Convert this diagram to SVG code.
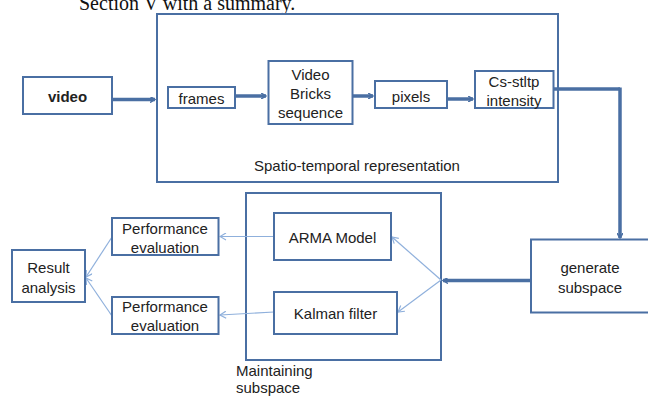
<svg xmlns="http://www.w3.org/2000/svg" width="648" height="396" viewBox="0 0 648 396">
<style>
.box{fill:#fff;stroke:#4a6fa3;stroke-width:2}
.t{font-family:"Liberation Sans",Arial,sans-serif;font-size:15px;fill:#222;text-anchor:middle;dominant-baseline:central}
.thick{fill:none;stroke:#4a6fa3;stroke-width:3.5}
.thin{fill:none;stroke:#8fb0dc;stroke-width:1.2}
</style>
<defs>
<marker id="ah" markerWidth="6" markerHeight="6" refX="5" refY="3" orient="auto" markerUnits="userSpaceOnUse">
<path d="M0,0 L5,3 L0,6" fill="none" stroke="#4a6fa3" stroke-width="1.5"/>
</marker>
<marker id="ahs" markerWidth="8" markerHeight="8" refX="7" refY="4" orient="auto" markerUnits="userSpaceOnUse">
<path d="M1,0.5 L7,4 L1,7.5" fill="none" stroke="#8fb0dc" stroke-width="1.2"/>
</marker>
</defs>
<rect width="648" height="396" fill="#fff"/>
<text x="79" y="10" font-family="'Liberation Serif','Times New Roman',serif" font-size="20" fill="#111">Section V with a summary.</text>

<g id="spatio">
<rect class="box" x="157" y="14" width="401" height="168"/>
<text class="t" x="357" y="165">Spatio-temporal representation</text>
</g>
<g id="maintaining">
<rect class="box" x="246" y="193" width="195" height="167"/>
<text class="t" x="236" y="370" style="text-anchor:start">Maintaining</text>
<text class="t" x="236" y="387" style="text-anchor:start">subspace</text>
</g>

<g id="connectors">
<line class="thick" x1="112" y1="99.5" x2="155" y2="99.5" marker-end="url(#ah)"/>
<line class="thick" x1="235" y1="96" x2="266" y2="96" marker-end="url(#ah)"/>
<line class="thick" x1="353" y1="96" x2="373" y2="96" marker-end="url(#ah)"/>
<line class="thick" x1="447" y1="99" x2="473" y2="99" marker-end="url(#ah)"/>
<polyline class="thick" points="554,89 620,89"/>
<line class="thick" x1="620" y1="87.5" x2="620" y2="238" marker-end="url(#ah)"/>
<line class="thick" x1="531" y1="280.5" x2="443" y2="280.5" marker-end="url(#ah)"/>
<line class="thin" x1="441" y1="280" x2="392" y2="237" marker-end="url(#ahs)"/>
<line class="thin" x1="441" y1="280" x2="398" y2="312" marker-end="url(#ahs)"/>
<line class="thin" x1="274" y1="236.5" x2="220" y2="236.5" marker-end="url(#ahs)"/>
<line class="thin" x1="274" y1="312" x2="220" y2="315" marker-end="url(#ahs)"/>
<line class="thin" x1="112" y1="237" x2="86" y2="277" marker-end="url(#ahs)"/>
<line class="thin" x1="112" y1="316" x2="86" y2="278" marker-end="url(#ahs)"/>
</g>

<g id="video">
<rect class="box" x="23" y="77" width="89" height="37"/>
<text class="t" x="67.5" y="96" font-weight="bold">video</text>
</g>
<g id="frames">
<rect class="box" x="168" y="87" width="67" height="21"/>
<text class="t" x="201.5" y="98">frames</text>
</g>
<g id="bricks">
<rect class="box" x="268.5" y="61" width="84" height="63"/>
<text class="t" x="310.5" y="74">Video</text>
<text class="t" x="310.5" y="93">Bricks</text>
<text class="t" x="310.5" y="112">sequence</text>
</g>
<g id="pixels">
<rect class="box" x="375" y="81" width="72" height="27"/>
<text class="t" x="411" y="96">pixels</text>
</g>
<g id="csstltp">
<rect class="box" x="475" y="71" width="78.5" height="37"/>
<text class="t" x="514" y="81">Cs-stltp</text>
<text class="t" x="514" y="100">intensity</text>
</g>
<g id="generate">
<rect class="box" x="531" y="239.5" width="121" height="73"/>
<text class="t" x="590" y="267">generate</text>
<text class="t" x="590" y="287">subspace</text>
</g>
<g id="arma">
<rect class="box" x="274" y="213" width="117" height="47"/>
<text class="t" x="332.5" y="237">ARMA Model</text>
</g>
<g id="kalman">
<rect class="box" x="274" y="292" width="123" height="42"/>
<text class="t" x="335.5" y="313">Kalman filter</text>
</g>
<g id="perf1">
<rect class="box" x="112" y="218" width="106.5" height="37"/>
<text class="t" x="165" y="228">Performance</text>
<text class="t" x="165" y="247">evaluation</text>
</g>
<g id="perf2">
<rect class="box" x="112" y="297" width="106.5" height="37"/>
<text class="t" x="165" y="306">Performance</text>
<text class="t" x="165" y="325">evaluation</text>
</g>
<g id="result">
<rect class="box" x="12" y="250" width="73" height="52"/>
<text class="t" x="48.5" y="267">Result</text>
<text class="t" x="48.5" y="287">analysis</text>
</g>
</svg>
